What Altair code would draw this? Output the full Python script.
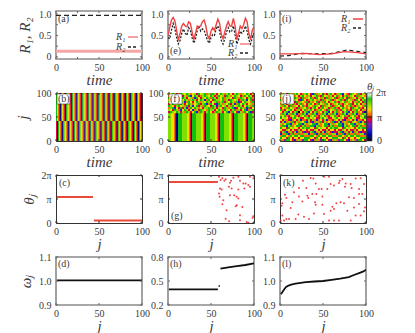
import altair as alt
import pandas as pd
import numpy as np

# ---- data ----
T_E = list(range(0, 101, 2))
E_R1 = [.50,.68,.86,.92,.84,.62,.38,.55,.72,.78,.72,.70,.82,.78,.58,.40,.55,.72,.70,.72,.82,.86,.72,.50,.42,.60,.68,.62,.75,.88,.78,.52,.42,.58,.72,.82,.72,.72,.90,.72,.40,.55,.72,.66,.75,.90,.82,.55,.40,.62,.70]
E_R2 = [.45,.42,.62,.78,.65,.45,.30,.38,.55,.65,.55,.50,.68,.62,.45,.32,.42,.62,.72,.60,.65,.62,.50,.38,.32,.45,.52,.50,.65,.72,.60,.38,.30,.42,.58,.68,.58,.60,.72,.52,.30,.40,.60,.55,.60,.72,.60,.40,.30,.45,.55]
A_T = [0, 100]
A_R1 = [0.13, 0.13]
A_R2 = [0.97, 0.97]
I_T1 = [0, 15, 30, 45, 60, 75, 90, 100]
I_R1 = [.07, .07, .08, .05, .07, .12, .10, .07]
I_T2 = [0, 10, 25, 40, 60, 78, 90, 100]
I_R2 = [.02, .03, .08, .07, .08, .16, .13, .10]

B_TOP = "8654186541876541865418654187654186541865418765418654186541876541865418654187654186541"
B_BOT = "4186541876541865418654187654186541865418765418654186541876541865418654187654186541865"
F_LOW = "7776665410" + "88887777766541" * 5 + "888877"
F_TOP = [
 "7687458768756748678576874687578647875768746",
 "5867686475826874578768745867487568764586874",
 "8476568874675286476875874768577648758764785",
 "6875784687578746872586487768574876745872684",
 "7658648725864687576874678578476875824687658",
 "4687758746875678478258642875768472586874675",
 "8764786758472684758764872586747586787468758",
 "5782648472586875647785874764875782468752846",
 "7648752687462574876587746875876478574682578",
 "4876874758746825874786458774682586427586824",
]
J_ROWS = [
 "6574865786457864285768547864578265487658476",
 "7856478564786574678548675746856478576485765",
 "5687546875485768548657485768457864857647586",
 "8475685764286457865748567845678548675486478",
 "6748576485765847568475864768547685764758648",
 "5864768547856478645867586457685476584686475",
 "7586485764685476587648576845768465785457658",
 "4675867548576854786458674578546875648768546",
 "8546786457468578645786548675854768547586475",
 "6478264780647826478564782647856478264785641",
 "5872758725587275872558727587255872758725587",
 "7685476854768547685476854768547685476854768",
 "8676447867446786764478674467867644786744678",
 "6475425647255474752564725547647425564725546",
 "4725758475768274257584756582472575847658274",
 "7568827568827576882756882757688275688275768",
 "5882785688478558827856884785588278568847855",
 "8664867664687886648676646878866486766468788",
 "6447646447466464476464474664644764644746646",
 "4782574725742447825747257424478257472574244",
 "2558258558557725582585585577255825855855772",
 "5886586886885558865868868855588658688688555",
 "8664864664668886648646646688866486466466888",
 "7538864257538864257538864257538864257538864",
]
PAL_DOM = [0, 1, 2, 3.3, 4.2, 5.2, 6, 7, 8, 9]
PAL_COL = ["#000010", "#000090", "#1020e0", "#8020a0", "#e01010", "#ff8000", "#f0e000", "#80e000", "#10c010", "#f0fff0"]

C_J = [1, 43, 44, 100]
C_TH = [1.08, 1.08, 0.10, 0.10]
G_LINE_J = [1, 58]
G_LINE_TH = [1.71, 1.71]
G_J = [59.3,61.2,63.2,65.5,67,72,73.3,76,81.8,83.7,87.6,90.3,95.3,93.4,99.2,60.5,59.3,60,70.9,74,81.8,88.8,95.3,72,77,79.8,81.8,78.7,63.2,68.2,86.4,67,71,83.7,83.7,91.5,93.4,99.2,98.4,62.4,64.3,80]
G_TH = [1.93,1.79,1.86,1.76,1.82,1.68,1.76,1.89,1.93,1.76,1.65,1.65,1.93,1.58,1.86,1.44,1.23,1.09,1.51,1.44,1.40,1.44,1.51,1.16,1.16,1.09,1.02,.70,.78,.53,.67,.18,.07,.32,.11,.04,.01,.28,.22,1.40,.95,.74]
K_J = [26.7,35.7,38.8,41.5,51.2,57,69.4,72.5,76.4,82.2,88,93.8,97.7,68.6,7.4,5.8,14.3,2.7,1.9,12.4,2.7,7.4,.8,4.7,10.5,18.2,21.3,27.9,33.7,39.5,40.7,31.8,32.9,37.6,42.2,45.3,48.4,55,58.9,62.8,75.6,83.3,91.9,60.9,62.8,58.9,49.2,41.5,26,22,30.6,22,65.5,70.5,78.3,80.2,86,91.9,95.7,98.8,97.7,93.8,88,82.2,68.6,62.8,57,51.2,74.4,86,91.9,49.2,16.3]
K_TH = [1.76,1.88,1.85,1.65,1.93,1.93,1.76,1.83,1.65,1.63,1.85,1.86,1.63,1.67,1.04,1.18,.86,.82,.72,.63,.31,.17,.10,.10,.17,.17,.35,.26,.17,.40,.86,1.14,1.04,1.21,1.21,1.42,1.42,1.42,1.63,1.56,1.51,1.46,1.42,.68,.58,.51,.76,.76,.90,1.10,1.46,1.46,.82,.86,.51,1.07,1.04,1.21,1.21,.65,.49,.31,.31,.10,.10,.10,.10,.38,.82,.65,.79,1.10,1.28]
D_J = [1, 100]
D_W = [1.003, 1.003]
H_J1 = [1, 58]
H_W1 = [.395, .395]
H_J2 = [59, 60]
H_W2 = [.43, .445]
H_J3 = [61, 70, 80, 90, 100]
H_W3 = [.655, .67, .685, .70, .72]
L_J = [1, 3, 5, 7, 10, 13, 18, 24, 30, 40, 50, 60, 70, 80, 86, 92, 97, 100]
L_W = [.945, .955, .966, .975, .981, .985, .989, .992, .995, .998, 1.0, 1.005, 1.01, 1.016, 1.025, 1.033, 1.04, 1.047]

W, H = 86, 48
SERIF = "Liberation Serif"
TXT = "#3a3a3a"
FMT1 = "datum.value==0?'0':format(datum.value,'.1f')"


def ax(values, title=None, labelExpr=None, pad=4, tpad=3):
    kw = dict(values=values, ticks=False, domain=False, grid=False, labelFont=SERIF, labelFontSize=10,
              labelColor=TXT, labelPadding=pad, labelOverlap=False, labelFlush=False,
              titleFont=SERIF, titleFontStyle="italic", titleFontWeight="normal", titleColor=TXT,
              titleFontSize=15, titlePadding=tpad)
    if labelExpr:
        kw["labelExpr"] = labelExpr
    kw["title"] = title if title else ""
    return alt.Axis(**kw)


def panel(layers, xdom, ydom, xlabels, ylabels, xticks, yticks, xtitle, ytitle=None, ylabelExpr=None,
          stroke="#333", sw=1, tick_color="#333", ytpad=6):
    xa = ax(xlabels, xtitle, pad=3, tpad=0)
    ya = ax(ylabels, ytitle, ylabelExpr, pad=5, tpad=ytpad)
    xs = alt.Scale(domain=xdom, nice=False, zero=False)
    ys = alt.Scale(domain=ydom, nice=False, zero=False)
    out = []
    for make in layers:
        out.append(make(lambda f: alt.X(f, axis=xa, scale=xs), lambda f: alt.Y(f, axis=ya, scale=ys)))
    xt = pd.DataFrame({"v": xticks})
    yt = pd.DataFrame({"v": yticks})
    tm = dict(color=tick_color, strokeWidth=1)
    out.append(alt.Chart(xt).mark_rule(**tm).encode(x=alt.X("v:Q", axis=xa, scale=xs), y=alt.value(H), y2=alt.value(H - 2)))
    out.append(alt.Chart(xt).mark_rule(**tm).encode(x=alt.X("v:Q", axis=xa, scale=xs), y=alt.value(0), y2=alt.value(2)))
    out.append(alt.Chart(yt).mark_rule(**tm).encode(y=alt.Y("v:Q", axis=ya, scale=ys), x=alt.value(0), x2=alt.value(2)))
    out.append(alt.Chart(yt).mark_rule(**tm).encode(y=alt.Y("v:Q", axis=ya, scale=ys), x=alt.value(W), x2=alt.value(W - 2)))
    return out, dict(stroke=stroke, strokeWidth=sw)


def line_layer(xs_, ys_, color, width=1.5, dash=None):
    df = pd.DataFrame({"a": xs_, "b": ys_})
    kw = dict(color=color, strokeWidth=width, clip=True)
    if dash:
        kw["strokeDash"] = dash
    return lambda X, Y: alt.Chart(df).mark_line(**kw).encode(x=X("a:Q"), y=Y("b:Q"))


def dots_layer(xs_, ys_, color, size=4):
    df = pd.DataFrame({"a": xs_, "b": ys_})
    return lambda X, Y: alt.Chart(df).mark_point(filled=True, color=color, size=size, opacity=0.9, clip=True).encode(x=X("a:Q"), y=Y("b:Q"))


COLOR = alt.Color("v:Q", legend=None, scale=alt.Scale(domain=PAL_DOM, range=PAL_COL, clamp=True))


def heat_layer(cells):
    df = pd.DataFrame(cells, columns=["t0", "t1", "j0", "j1", "v"])
    return lambda X, Y: alt.Chart(df).mark_rect(strokeWidth=0, clip=True).encode(
        x=X("t0:Q"), x2="t1:Q", y=Y("j0:Q"), y2="j1:Q", color=COLOR)


def cells_band(row, j0, j1):
    n = len(row)
    return [(i * 100 / n, (i + 1) * 100 / n + 0.4, j0, j1, int(c)) for i, c in enumerate(row)]


def cells_rows(rows, top, dj):
    out = []
    for r, s in enumerate(rows):
        out += cells_band(s, top - (r + 1) * dj - 0.4, top - r * dj)
    return out


def text(s, x, y, size=10, style="normal", align="left", color=TXT):
    df = pd.DataFrame({"s": [s]})
    return alt.Chart(df).mark_text(font=SERIF, fontSize=size, fontStyle=style, align=align, baseline="middle", color=color).encode(
        text="s:N", x=alt.value(x), y=alt.value(y))


def label(s, white=False, y=8):
    items = []
    if white:
        df = pd.DataFrame({"s": [s]})
        items.append(alt.Chart(df).mark_rect(color="white", stroke="#222", strokeWidth=0.5).encode(
            x=alt.value(1), x2=alt.value(14), y=alt.value(1), y2=alt.value(11)))
    items.append(text(s, 2, y if not white else 6, 10))
    return items


def key(r_name, xl, xs, xe, y, color, dash=None, width=1.5):
    df = pd.DataFrame({"s": [r_name]})
    kw = dict(color=color, strokeWidth=width)
    if dash:
        kw["strokeDash"] = dash
    return [text(r_name, xl, y, 10, "italic"),
            alt.Chart(df).mark_rule(**kw).encode(x=alt.value(xs), x2=alt.value(xe), y=alt.value(y))]


def build(layers, extras, xdom, ydom, xlabels, ylabels, xticks, yticks, xtitle, **kw):
    out, view = panel(layers, xdom, ydom, xlabels, ylabels, xticks, yticks, xtitle, **kw)
    return alt.layer(*out, *extras).properties(width=W, height=H, view=view)


T_TICKS = [0, 25, 50, 75, 100]
XL = [0, 50, 100]
R_Y = [0, 0.5, 1.0]
R_TICKS = [0, 0.25, 0.5, 0.75, 1.0]
RD = [-0.05, 1.07]
GR = dict(stroke="#8a8a8a", sw=1.6, tick_color="#666")

a = build([line_layer(A_T, A_R1, "#f4a6a6", 3), line_layer(A_T, A_R2, "#222", 1.2, [5, 3])],
          label("(a)", y=8) + key("R₁", 60, 72, 82, 26, "#f08080") + key("R₂", 60, 72, 82, 36, "#222", [3, 2]),
          [0, 100], RD, XL, R_Y, T_TICKS, R_TICKS, "time", ytitle="R₁, R₂", ylabelExpr=FMT1, **GR)
e = build([line_layer(T_E, E_R2, "#222", 1.3, [2, 1.5]), line_layer(T_E, E_R1, "#f04040", 1.4)],
          label("(e)", y=40) + key("R₁", 60, 72, 82, 33, "#f08080") + key("R₂", 60, 72, 82, 42, "#222", [3, 2]),
          [0, 100], RD, XL, R_Y, T_TICKS, R_TICKS, "time", ylabelExpr=FMT1, **GR)
i_ = build([line_layer(I_T2, I_R2, "#222", 1.2, [4, 3]), line_layer(I_T1, I_R1, "#f04040", 1.3)],
           label("(i)", y=8) + key("R₁", 61, 73, 83, 8, "#f04040") + key("R₂", 61, 73, 83, 17, "#222", [3, 2]),
           [0, 100], RD, XL, R_Y, T_TICKS, R_TICKS, "time", ylabelExpr=FMT1, **GR)

JT = [0, 50, 100]
b = build([heat_layer(cells_band(B_TOP, 41.67, 100) + cells_band(B_BOT, 0, 41.67))], label("(b)", True),
          [0, 100], [0, 100], XL, XL, XL, JT, "time", ytitle="j", ytpad=6)
f = build([heat_layer(cells_band(F_LOW, 0, 58.33) + cells_rows(F_TOP, 100, 100 / 24))], label("(f)", True),
          [0, 100], [0, 100], XL, XL, XL, JT, "time")

# colour bar, drawn beside panel (j) on panel (j)'s vertical scale
cb_df = pd.DataFrame({"y0": [k * 100 / 48 for k in range(48)], "y1": [(k + 1.2) * 100 / 48 for k in range(48)], "v": np.linspace(0, 9, 48)})
cb_layer = lambda X, Y: alt.Chart(cb_df).mark_rect(strokeWidth=0).encode(
    x=alt.value(W + 1), x2=alt.value(W + 6), y=Y("y0:Q"), y2="y1:Q", color=COLOR)
cb_extra = [
    alt.Chart(pd.DataFrame({"s": ["t"]})).mark_rule(color="#000", strokeWidth=1).encode(x=alt.value(W + 1), x2=alt.value(W + 6), y=alt.value(H / 2)),
    alt.Chart(pd.DataFrame({"s": ["t"]})).mark_rect(fillOpacity=0, stroke="#444", strokeWidth=0.7).encode(x=alt.value(W + 1), x2=alt.value(W + 6), y=alt.value(0), y2=alt.value(H)),
    text("2π", W + 10, 0, 10), text("π", W + 11, H / 2 + 1, 10), text("0", W + 11, H, 10),
    text("θⱼ", W + 1, -6, 11, "italic"),
]
j_ = build([heat_layer(cells_rows(J_ROWS, 100, 100 / 24)), cb_layer], label("(j)", True) + cb_extra,
           [0, 100], [0, 100], XL, XL, XL, JT, "time")

PI_EXPR = "datum.value==0?'0':datum.value==1?'π':'2π'"
TH_Y = [0, 1, 2]
c = build([line_layer(C_J[:2], C_TH[:2], "#ea4a3a", 2), line_layer(C_J[2:], C_TH[2:], "#ea4a3a", 2)], [text("(c)", 3, 8, 10)],
          [0, 100], [0, 2], XL, TH_Y, XL, TH_Y, "j", ytitle="θⱼ", ylabelExpr=PI_EXPR, ytpad=4)
g = build([line_layer(G_LINE_J, G_LINE_TH, "#ea4a3a", 2), dots_layer(G_J, G_TH, "#ee3030")], [text("(g)", 3, 41, 10)],
          [0, 100], [0, 2], XL, TH_Y, XL, TH_Y, "j", ylabelExpr=PI_EXPR)
k = build([dots_layer(K_J, K_TH, "#ee3030")], [text("(k)", 3, 8, 10)],
          [0, 100], [0, 2], XL, TH_Y, XL, TH_Y, "j", ylabelExpr=PI_EXPR)

d = build([line_layer(D_J, D_W, "#111", 1.8)], [text("(d)", 2, 7, 10)],
          [0, 100], [0.9, 1.1], XL, [0.9, 1.0, 1.1], XL, [0.9, 1.0, 1.1], "j", ytitle="ωⱼ", ytpad=5, ylabelExpr=FMT1, **GR)
h = build([line_layer(H_J1, H_W1, "#111", 1.8), line_layer(H_J2, H_W2, "#111", 1.5), line_layer(H_J3, H_W3, "#111", 1.8)], [text("(h)", 2, 7, 10)],
          [0, 100], [0.2, 0.8], XL, [0.2, 0.5, 0.8], XL, [0.2, 0.5, 0.8], "j", ylabelExpr=FMT1, **GR)
l = build([line_layer(L_J, L_W, "#111", 1.8)], [text("(l)", 2, 7, 10)],
          [0, 100], [0.9, 1.1], XL, [0.9, 1.0, 1.1], XL, [0.9, 1.0, 1.1], "j", ylabelExpr=FMT1, **GR)

chart = alt.concat(a, e, i_, b, f, j_, c, g, k, d, h, l, columns=3, spacing={"row": 34, "column": 26}, bounds="flush").properties(
    padding={"left": 6, "top": 0, "right": 0, "bottom": 0}, background="white"
).configure_view(strokeWidth=1)

chart.save("out.html", embed_options={"renderer": "svg", "actions": False})
